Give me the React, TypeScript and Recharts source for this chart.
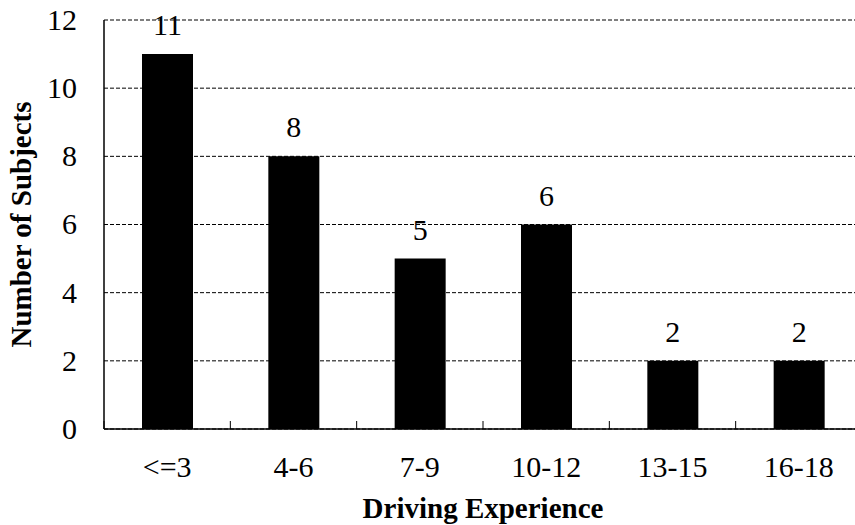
import React from "react";
import { BarChart, Bar, XAxis, YAxis, CartesianGrid, LabelList } from "recharts";

const categories = ["<=3", "4-6", "7-9", "10-12", "13-15", "16-18"];
const subjects = [11, 8, 5, 6, 2, 2];
const yTicks = [0, 2, 4, 6, 8, 10, 12];

const data = categories.map((c, i) => ({ cat: c, n: subjects[i] }));

const FONT = "Liberation Serif, Times New Roman, DejaVu Serif, serif";
const CHART_W = 870;
const CHART_H = 525;
const MARGIN = { top: 20, right: 8, bottom: 0, left: 0 };
const Y_W = 104;
const BAND = (CHART_W - MARGIN.left - MARGIN.right - Y_W) / categories.length;
const X_TICK_MARGIN = 27;

const txt = { fontFamily: FONT, fontSize: 30, fill: "#000" } as const;
const bold = { fontFamily: FONT, fontSize: 29, fontWeight: "bold", fill: "#000" } as const;

const XTick = (props: any) => {
  const { x, y, payload } = props;
  const axisY = y - X_TICK_MARGIN;
  const bx = x - BAND / 2;
  return (
    <g>
      <line x1={bx} x2={bx} y1={axisY} y2={axisY - 8} stroke="#000" strokeWidth={1} />
      <text x={x} y={y} dy="0.71em" textAnchor="middle" style={txt}>
        {payload.value}
      </text>
    </g>
  );
};

const YTick = (props: any) => {
  const { x, y, payload } = props;
  return (
    <text x={x} y={y} dy="0.33em" textAnchor="end" style={txt}>
      {payload.value}
    </text>
  );
};

const YLabel = (props: any) => {
  const vb = props.viewBox || {};
  const cy = vb.y + vb.height / 2;
  const cx = 31;
  return (
    <text x={cx} y={cy} transform={`rotate(-90, ${cx}, ${cy})`} textAnchor="middle" style={bold}>
      Number of Subjects
    </text>
  );
};

const XLabel = (props: any) => {
  const vb = props.viewBox || {};
  const cx = vb.x + vb.width / 2;
  return (
    <text x={cx} y={518} textAnchor="middle" style={bold}>
      Driving Experience
    </text>
  );
};

const BarValue = (props: any) => {
  const { x, y, width, value } = props;
  return (
    <text x={x + width / 2} y={y - 19} textAnchor="middle" style={txt}>
      {value}
    </text>
  );
};

export default function App() {
  return (
    <div style={{ position: "fixed", left: 0, top: 0, width: 855, height: 525, overflow: "hidden", background: "#fff", fontFamily: FONT }}>
      <BarChart width={CHART_W} height={CHART_H} data={data} margin={MARGIN}>
        <CartesianGrid horizontal vertical={false} stroke="#000" strokeDasharray="4 2" strokeWidth={1} />
        <XAxis
          dataKey="cat"
          height={96}
          tickSize={0}
          tickMargin={X_TICK_MARGIN}
          tickLine={false}
          axisLine={{ stroke: "#000", strokeWidth: 1.5 }}
          tick={<XTick />}
          interval={0}
          label={<XLabel />}
        />
        <YAxis
          width={Y_W}
          domain={[0, 12]}
          ticks={yTicks}
          interval={0}
          tickSize={0}
          tickMargin={27}
          tickLine={false}
          axisLine={{ stroke: "#000", strokeWidth: 1.5 }}
          tick={<YTick />}
          label={<YLabel />}
        />
        <Bar dataKey="n" fill="#000" barSize={51} isAnimationActive={false}>
          <LabelList dataKey="n" content={<BarValue />} />
        </Bar>
      </BarChart>
    </div>
  );
}
